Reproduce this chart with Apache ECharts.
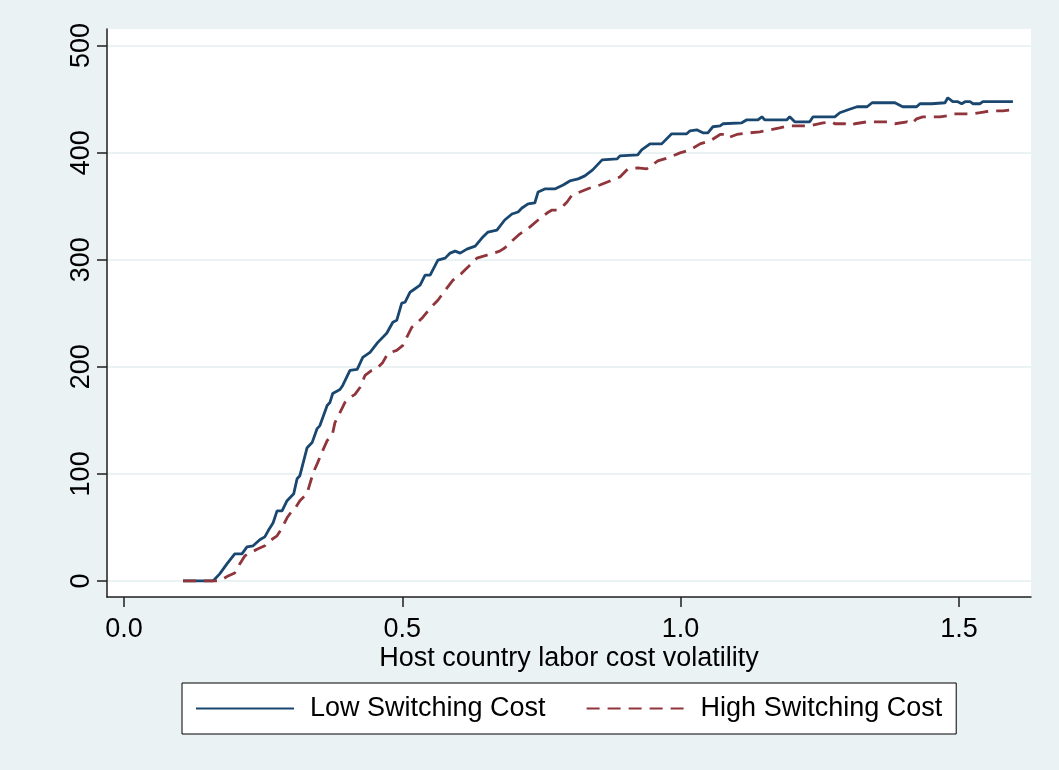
<!DOCTYPE html>
<html>
<head>
<meta charset="utf-8">
<script src="https://cdn.jsdelivr.net/npm/echarts@6/dist/echarts.min.js"></script>
<style>
  html, body { margin: 0; padding: 0; background: #eaf2f3; }
  #chart { width: 1059px; height: 770px; }
</style>
</head>
<body>
<div id="chart"></div>
<script>
// ---- data ----
const seriesNames = ['Low Switching Cost', 'High Switching Cost'];
const xTitle = 'Host country labor cost volatility';
const yTicks = [0, 100, 200, 300, 400, 500];
const xTicks = [0, 0.5, 1.0, 1.5];
const xTickLabels = ['0.0', '0.5', '1.0', '1.5'];

const lowCost = [[0.106,0],[0.160,0],[0.172,6.6],[0.185,15.9],[0.199,25.3],[0.212,25.3],[0.221,31.8],[0.232,32.8],[0.244,38.4],[0.253,41.2],[0.259,46.8],[0.268,54.3],[0.275,65.5],[0.284,65.5],[0.293,74.9],[0.305,81.5],[0.311,95.5],[0.316,98.3],[0.329,124.5],[0.338,129.2],[0.347,142.3],[0.352,145.1],[0.365,163.9],[0.370,166.7],[0.375,175.1],[0.388,178.8],[0.393,182.6],[0.406,196.6],[0.419,197.6],[0.429,208.8],[0.442,213.5],[0.456,222.8],[0.472,231.3],[0.483,241.6],[0.490,243.4],[0.499,259.4],[0.505,260.3],[0.514,269.7],[0.519,271.5],[0.532,276.2],[0.541,285.6],[0.550,285.6],[0.564,299.6],[0.577,301.5],[0.586,306.2],[0.595,308.0],[0.604,306.2],[0.616,309.9],[0.631,312.7],[0.643,320.2],[0.654,325.8],[0.670,327.7],[0.684,337.1],[0.697,342.7],[0.708,344.6],[0.715,348.3],[0.726,352.1],[0.738,353.0],[0.744,363.3],[0.756,366.1],[0.774,366.1],[0.789,369.8],[0.801,373.6],[0.816,375.5],[0.828,378.3],[0.842,383.9],[0.859,393.3],[0.886,394.2],[0.891,397.0],[0.923,397.9],[0.930,402.6],[0.945,408.2],[0.966,408.2],[0.984,417.6],[1.011,417.6],[1.017,420.4],[1.029,421.3],[1.040,418.5],[1.049,418.5],[1.058,424.2],[1.071,425.1],[1.076,427.0],[1.110,427.9],[1.119,430.7],[1.139,430.7],[1.146,433.5],[1.151,430.7],[1.191,430.7],[1.196,433.5],[1.205,428.8],[1.232,428.8],[1.238,433.5],[1.277,433.5],[1.286,437.3],[1.301,440.1],[1.317,442.9],[1.335,442.9],[1.344,446.6],[1.385,446.6],[1.399,442.9],[1.424,442.9],[1.430,445.7],[1.451,445.7],[1.453,446.6],[1.475,446.6],[1.480,451.3],[1.489,447.6],[1.498,447.6],[1.505,445.7],[1.511,447.6],[1.520,447.6],[1.525,445.7],[1.538,445.7],[1.543,447.6],[1.597,447.6]];

const highCost = [[0.106,0],[0.172,0],[0.187,4.7],[0.199,7.5],[0.208,15.9],[0.217,23.4],[0.226,26.2],[0.241,30.0],[0.253,32.8],[0.262,37.5],[0.275,42.1],[0.284,49.6],[0.293,59.0],[0.302,65.5],[0.307,67.4],[0.316,74.9],[0.329,81.5],[0.332,87.1],[0.340,101.1],[0.348,110.5],[0.357,121.7],[0.365,131.1],[0.374,135.8],[0.379,147.9],[0.388,157.3],[0.397,166.7],[0.406,171.3],[0.415,174.2],[0.424,180.7],[0.433,191.9],[0.445,196.6],[0.456,199.4],[0.465,204.1],[0.474,212.5],[0.490,215.4],[0.501,220.0],[0.508,227.5],[0.517,236.9],[0.528,241.6],[0.537,246.3],[0.550,254.7],[0.564,262.2],[0.577,271.5],[0.591,280.9],[0.607,287.5],[0.618,293.1],[0.634,301.5],[0.652,304.3],[0.675,308.0],[0.684,310.9],[0.699,318.4],[0.711,324.0],[0.729,330.5],[0.744,337.1],[0.760,343.6],[0.769,346.4],[0.778,346.4],[0.789,350.2],[0.796,353.9],[0.805,360.5],[0.819,363.3],[0.837,367.0],[0.855,369.8],[0.873,373.6],[0.891,377.3],[0.905,384.8],[0.923,385.8],[0.939,384.8],[0.959,392.3],[0.977,395.1],[0.999,399.8],[1.017,402.6],[1.035,408.2],[1.053,411.0],[1.071,417.0],[1.080,417.0],[1.085,413.9],[1.101,417.0],[1.124,418.5],[1.142,419.5],[1.160,421.3],[1.178,423.2],[1.193,425.1],[1.232,425.1],[1.256,427.9],[1.272,428.8],[1.277,427.0],[1.295,427.0],[1.304,425.1],[1.313,427.0],[1.335,428.8],[1.371,428.8],[1.385,427.0],[1.407,428.8],[1.415,427.0],[1.424,431.6],[1.435,433.5],[1.466,433.5],[1.480,434.5],[1.489,436.3],[1.525,436.3],[1.538,437.3],[1.547,438.2],[1.561,439.1],[1.579,439.1],[1.597,440.1]];

// ---- chart ----
const FONT = '"Liberation Sans", Arial, Helvetica, sans-serif';
const chart = echarts.init(document.getElementById('chart'), null, { renderer: 'canvas' });
const axisLineStyle = { color: '#1f1f1f', width: 1.5 };

chart.setOption({
  animation: false,
  backgroundColor: '#eaf2f3',
  textStyle: { fontFamily: FONT },
  grid: {
    left: 107, top: 29, width: 924, height: 568,
    show: true, backgroundColor: '#ffffff', borderWidth: 0,
    containLabel: false
  },
  xAxis: {
    type: 'value',
    min: -0.0305, max: 1.6295,
    name: xTitle,
    nameLocation: 'middle',
    nameGap: 48,
    nameMoveOverlap: false,
    nameTextStyle: { fontSize: 27, color: '#000', fontFamily: FONT },
    axisLine: { show: true, onZero: false, lineStyle: axisLineStyle },
    axisTick: { show: true, length: 10, lineStyle: axisLineStyle, customValues: xTicks },
    axisLabel: {
      customValues: xTicks,
      fontSize: 27, color: '#000', fontFamily: FONT, margin: 19,
      formatter: function (v) {
        const i = xTicks.findIndex(t => Math.abs(t - v) < 1e-9);
        return i >= 0 ? xTickLabels[i] : '';
      }
    },
    splitLine: { show: false }
  },
  yAxis: {
    type: 'value',
    min: -15, max: 515.5,
    axisLine: { show: true, onZero: false, lineStyle: axisLineStyle },
    axisTick: { show: true, length: 10, lineStyle: axisLineStyle, customValues: yTicks },
    axisLabel: {
      customValues: yTicks,
      rotate: 90, fontSize: 27, color: '#000', fontFamily: FONT, margin: 12
    },
    splitLine: { show: true, lineStyle: { color: '#eaf2f3', width: 1.8 } }
  },
  legend: {
    left: 182, top: 683,
    padding: [12, 14, 12, 13],
    itemWidth: 98, itemHeight: 1, itemGap: 40,
    backgroundColor: '#ffffff', borderColor: '#000000', borderWidth: 1,
    textStyle: { fontSize: 27, color: '#000', fontFamily: FONT, padding: [0, 0, 0, 11] },
    data: seriesNames
  },
  series: [
    {
      name: seriesNames[0], type: 'line', data: lowCost,
      symbol: 'none', showSymbol: false,
      lineStyle: { color: '#1a476f', width: 2.8 },
      itemStyle: { color: '#1a476f' }
    },
    {
      name: seriesNames[1], type: 'line', data: highCost,
      symbol: 'none', showSymbol: false,
      lineStyle: { color: '#90353b', width: 2.8, type: [13, 8] },
      itemStyle: { color: '#90353b' }
    }
  ]
});
</script>
</body>
</html>
